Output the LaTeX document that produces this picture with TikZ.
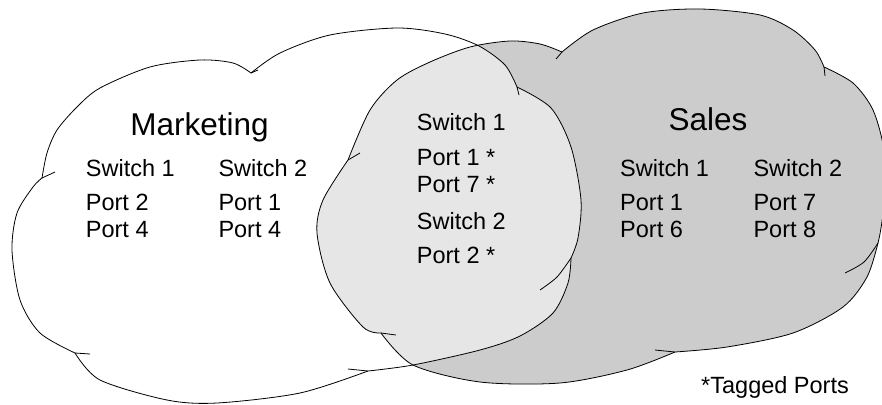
\documentclass[tikz,border=0pt]{standalone}
\usepackage{fontspec}
\setmainfont{Liberation Sans}
\definecolor{SalesGray}{RGB}{204,204,204}
\definecolor{SharedGray}{RGB}{230,230,230}

% outlines of the two clouds, lobe by lobe (cusp to cusp)
\newcommand{\marketingcloud}{%
  plot[smooth] coordinates {(42,178) (47,153) (57,130) (77,107) (100,88) (150,67) (200,60) (233,63) (251,73)}
  -- plot[smooth] coordinates {(251,73) (280,53) (330,35) (397,28) (445,34) (479,46) (505,65) (517,87)}
  -- plot[smooth] coordinates {(517,87) (551,108) (571,147) (581,200) (578,238) (571,258)}
  -- plot[smooth] coordinates {(571,258) (568,283) (553,313) (520,336) (480,350) (413,365) (368,371)}
  -- plot[smooth] coordinates {(368,371) (300,393) (217,403) (167,400) (100,380) (75,353)}
  -- plot[smooth] coordinates {(75,353) (40,333) (20,300) (12,250) (17,213) (33,187) (42,178)}
  -- cycle}
\newcommand{\salescloud}{%
  plot[smooth] coordinates {(348,160) (370,110) (397,80) (430,62) (470,47) (510,41) (540,44) (562,52)}
  -- plot[smooth] coordinates {(562,52) (593,30) (643,13) (700,9) (760,15) (793,30) (815,50) (824,67)}
  -- plot[smooth] coordinates {(824,67) (853,83) (873,110) (884,150) (885,195) (881,228) (878,243)}
  -- plot[smooth] coordinates {(878,243) (867,277) (843,307) (793,333) (727,347) (675,352)}
  -- plot[smooth] coordinates {(675,352) (627,370) (560,383) (480,382) (413,365) (381,333)}
  -- plot[smooth] coordinates {(381,333) (363,327) (330,283) (317,233) (323,200) (348,160)}
  -- cycle}

\begin{document}
\begin{tikzpicture}[x=1pt, y=-1pt,
    cloudline/.style={draw=black, line width=0.8pt},
    title/.style={font=\fontsize{31.5}{36}\selectfont, inner sep=0pt, anchor=base},
    % multi-line lists: anchored at the baseline of their last line
    portlist/.style={font=\fontsize{23.5}{27}\selectfont, align=left, inner sep=0pt, anchor=base west}
  ]
  \useasboundingbox (0,0) rectangle (882,404);
  \fill[white] (0,0) rectangle (882,404);

  % fills
  \fill[white] \marketingcloud;
  \fill[SalesGray] \salescloud;
  \begin{scope}
    \clip \marketingcloud;
    \fill[SharedGray] \salescloud;
  \end{scope}

  % outlines and the little tails at the cusps
  \draw[cloudline] \marketingcloud;
  \draw[cloudline] \salescloud;
  \draw[cloudline] (42,178) -- (55,172);
  \draw[cloudline] (251,73) -- (258,70);
  \draw[cloudline] (517,87) -- (519,95);
  \draw[cloudline] plot[smooth] coordinates {(571,258) (557,277) (540,290)};
  \draw[cloudline] (368,371) -- (348,369);
  \draw[cloudline] (75,353) -- (90,354);
  \draw[cloudline] (348,160) -- (360,153);
  \draw[cloudline] (562,52) -- (556,59);
  \draw[cloudline] (824,67) -- (825,76);
  \draw[cloudline] plot[smooth] coordinates {(878,243) (864,262) (845,273)};
  \draw[cloudline] (675,352) -- (655,350);
  \draw[cloudline] (381,333) -- (396,335);

  % texts
  \node[title] (mktitle) at (199.5,135) {Marketing};
  \node[portlist] (mksw1) at (85.7,237) {Switch 1\\[7pt]Port 2\\Port 4};
  \node[portlist] (mksw2) at (218.3,237) {Switch 2\\[7pt]Port 1\\Port 4};
  \node[portlist] (shared) at (416.7,263) {Switch 1\\[8pt]Port 1 *\\Port 7 *\\[10pt]Switch 2\\[7pt]Port 2 *};
  \node[title] (sltitle) at (708,130) {Sales};
  \node[portlist] (slsw1) at (620,237) {Switch 1\\[7pt]Port 1\\Port 6};
  \node[portlist] (slsw2) at (753.3,237) {Switch 2\\[7pt]Port 7\\Port 8};
  \node[portlist] (tagnote) at (701,393) {*Tagged Ports};
\end{tikzpicture}
\end{document}
